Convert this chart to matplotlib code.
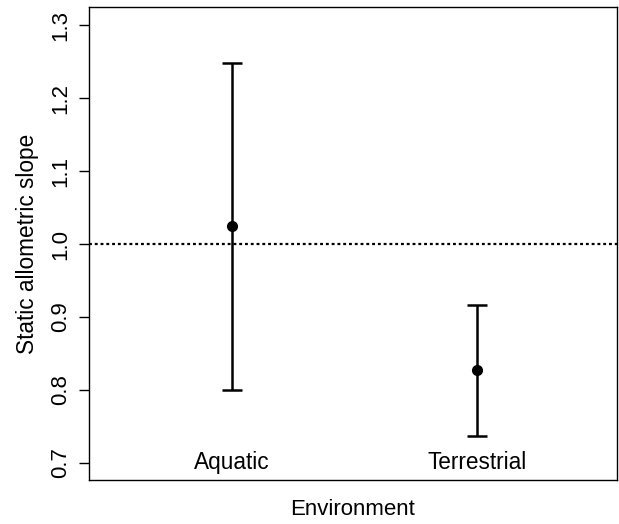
import matplotlib
matplotlib.use("Agg")
import matplotlib.pyplot as plt

categories = ["Aquatic", "Terrestrial"]
x_pos = [1, 2]
means = [1.024, 0.827]
lower = [0.800, 0.737]
upper = [1.248, 0.917]
y_ticks = [0.7, 0.8, 0.9, 1.0, 1.1, 1.2, 1.3]
ref_line = 1.0

plt.rcParams['font.family'] = ['Liberation Sans', 'DejaVu Sans']
fig = plt.figure(figsize=(6.19, 5.24), dpi=100)
ax = fig.add_axes([89/619, 1 - 480/524, 528/619, 473/524])

yerr = [[m - l for m, l in zip(means, lower)], [u - m for m, u in zip(means, upper)]]
ax.errorbar(x_pos, means, yerr=yerr, fmt='o', color='black', ms=7,
            elinewidth=1.8, capsize=7, capthick=1.8)
ax.axhline(ref_line, color='black', lw=1.6, ls=(0, (1.3, 1.3)))

for x, c in zip(x_pos, categories):
    ax.text(x, 0.7, c, ha='center', va='center', fontsize=16.3)

ax.set_xlim(0.416, 2.571)
ax.set_ylim(0.6767, 1.3247)
ax.set_xticks([])
ax.set_yticks(y_ticks)
ax.set_yticklabels([f"{v:.1f}" for v in y_ticks], rotation=90, va='center', fontsize=16)
ax.tick_params(axis='y', length=7, width=1, pad=6)
for s in ax.spines.values():
    s.set_linewidth(1)
ax.set_xlabel("Environment", fontsize=16, labelpad=14)
ax.set_ylabel("Static allometric slope", fontsize=16.3, labelpad=8)
fig.savefig("out.png", dpi=100)
